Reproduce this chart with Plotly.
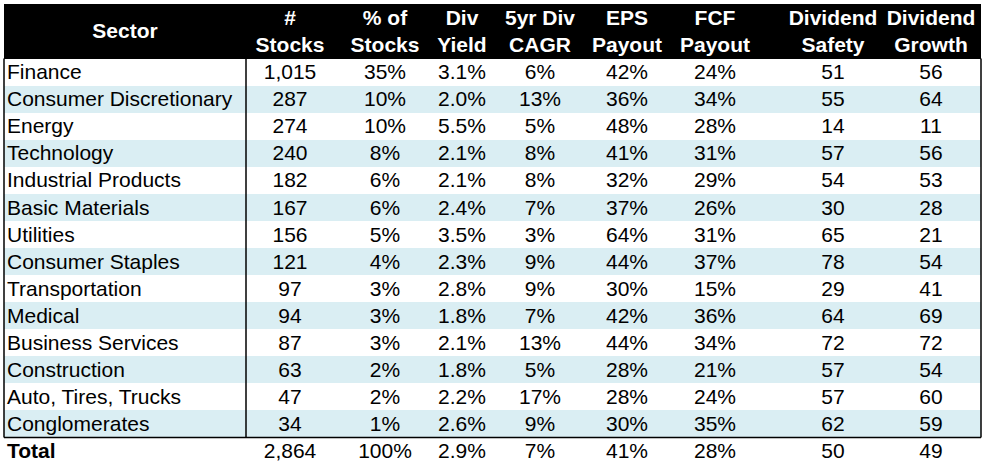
import plotly.graph_objects as go

# ---------------- data ----------------
sectors = ["Finance", "Consumer Discretionary", "Energy", "Technology",
           "Industrial Products", "Basic Materials", "Utilities",
           "Consumer Staples", "Transportation", "Medical",
           "Business Services", "Construction", "Auto, Tires, Trucks",
           "Conglomerates"]
num_stocks = [1015, 287, 274, 240, 182, 167, 156, 121, 97, 94, 87, 63, 47, 34]
pct_stocks = [35, 10, 10, 8, 6, 6, 5, 4, 3, 3, 3, 2, 2, 1]
div_yield = [3.1, 2.0, 5.5, 2.1, 2.1, 2.4, 3.5, 2.3, 2.8, 1.8, 2.1, 1.8, 2.2, 2.6]
div_cagr = [6, 13, 5, 8, 8, 7, 3, 9, 9, 7, 13, 5, 17, 9]
eps_payout = [42, 36, 48, 41, 32, 37, 64, 44, 30, 42, 44, 28, 28, 30]
fcf_payout = [24, 34, 28, 31, 29, 26, 31, 37, 15, 36, 34, 21, 24, 35]
div_safety = [51, 55, 14, 57, 54, 30, 65, 78, 29, 64, 72, 57, 57, 62]
div_growth = [56, 64, 11, 56, 53, 28, 21, 54, 41, 69, 72, 54, 60, 59]

total_label = "Total"
total_values = {"stocks": 2864, "pct": 100, "yield": 2.9, "cagr": 7,
                "eps": 41, "fcf": 28, "safety": 50, "growth": 49}

sector_header = "Sector"
headers = ["#<br>Stocks", "% of<br>Stocks", "Div<br>Yield",
           "5yr Div<br>CAGR", "EPS<br>Payout", "FCF<br>Payout",
           "Dividend<br>Safety", "Dividend<br>Growth"]

# ---------------- layout constants ----------------
FONT = "Liberation Sans, Arial, sans-serif"
FS = 21
BLUE = "#DAEEF3"
X_LEFT, X_DIV, X_RIGHT = 4, 246, 981
sector_center = 125
col_centers = [290, 385, 462, 540, 627, 715, 833, 931]
TXT_DY = 0.07  # small downward nudge so glyphs sit optically centred

n = len(sectors)
rows = list(range(n))
total_row = n
text_rows = [r + TXT_DY for r in rows]
total_text_row = total_row + TXT_DY

fig = go.Figure()

# cell fills
fig.add_trace(go.Bar(
    y=rows, x=[X_RIGHT - X_LEFT] * n, base=X_LEFT, orientation="h", width=1,
    marker=dict(color=["white" if i % 2 == 0 else BLUE for i in rows], line=dict(width=0)),
    hoverinfo="skip", showlegend=False))
# header fill
fig.add_trace(go.Bar(
    y=[-1.5], x=[X_RIGHT - X_LEFT], base=X_LEFT, orientation="h", width=2,
    marker=dict(color="black", line=dict(width=0)),
    hoverinfo="skip", showlegend=False))

# header text
hdr_font = dict(family=FONT, size=FS, color="white", weight="bold")
fig.add_trace(go.Scatter(
    x=[sector_center], y=[-1.45], mode="text", text=[sector_header],
    textposition="middle center", textfont=hdr_font,
    hoverinfo="skip", showlegend=False))
fig.add_trace(go.Scatter(
    x=col_centers, y=[-1.42] * len(headers), mode="text", text=headers,
    textposition="middle center", textfont=hdr_font,
    hoverinfo="skip", showlegend=False))

# body columns
fmt_cols = [
    [f"{v:,}" for v in num_stocks] + [f"{total_values['stocks']:,}"],
    [f"{v}%" for v in pct_stocks] + [f"{total_values['pct']}%"],
    [f"{v:.1f}%" for v in div_yield] + [f"{total_values['yield']:.1f}%"],
    [f"{v}%" for v in div_cagr] + [f"{total_values['cagr']}%"],
    [f"{v}%" for v in eps_payout] + [f"{total_values['eps']}%"],
    [f"{v}%" for v in fcf_payout] + [f"{total_values['fcf']}%"],
    [f"{v}" for v in div_safety] + [f"{total_values['safety']}"],
    [f"{v}" for v in div_growth] + [f"{total_values['growth']}"],
]

fig.add_trace(go.Scatter(
    x=[7] * n, y=text_rows, mode="text", text=sectors, textposition="middle right",
    textfont=dict(family=FONT, size=FS, color="black"),
    hoverinfo="skip", showlegend=False))
fig.add_trace(go.Scatter(
    x=[7], y=[total_text_row], mode="text", text=[total_label], textposition="middle right",
    textfont=dict(family=FONT, size=FS, color="black", weight="bold"),
    hoverinfo="skip", showlegend=False))

for cx, vals in zip(col_centers, fmt_cols):
    fig.add_trace(go.Scatter(
        x=[cx] * (n + 1), y=text_rows + [total_text_row], mode="text", text=vals,
        textposition="middle center",
        textfont=dict(family=FONT, size=FS, color="black"),
        hoverinfo="skip", showlegend=False))

# borders
line = dict(color="black", width=1.5)
for xv in (X_LEFT, X_DIV, X_RIGHT):
    fig.add_shape(type="line", x0=xv, x1=xv, y0=-0.5, y1=n - 0.5, line=line)
fig.add_shape(type="line", x0=X_LEFT, x1=X_RIGHT, y0=n - 0.5, y1=n - 0.5, line=line)

row_px = 27.07
top_px = 58.5
H = 466
y_top = -0.5 - top_px / row_px
y_bot = -0.5 + (H - top_px) / row_px

fig.update_layout(
    width=988, height=466,
    margin=dict(l=0, r=0, t=0, b=0),
    paper_bgcolor="white", plot_bgcolor="white",
    barmode="overlay", bargap=0,
    xaxis=dict(range=[0, 988], visible=False, fixedrange=True),
    yaxis=dict(range=[y_bot, y_top], visible=False, fixedrange=True),
    hovermode=False,
)

fig.write_html(
    "out.html",
    config={"displayModeBar": False},
    post_script="document.body.style.margin='0';document.body.style.overflow='hidden';",
)
